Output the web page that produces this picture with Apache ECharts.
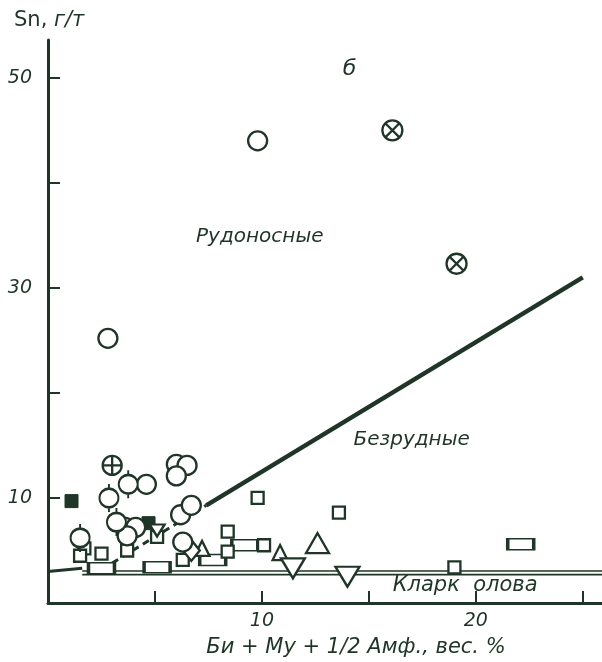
<!DOCTYPE html>
<html>
<head>
<meta charset="utf-8">
<script src="https://cdn.jsdelivr.net/npm/echarts@6/dist/echarts.min.js"></script>
<style>html,body{margin:0;padding:0;background:#fff}#c{width:602px;height:662px}</style>
</head>
<body>
<div id="c"></div>
<script>
// ---- data (x: Би+Му+1/2 Амф., вес.%; y: Sn, г/т) ----
const openCircles = [[9.8,44.0],[2.8,25.2],[4.6,11.3],[6.0,13.2],[6.5,13.1],[6.0,12.1],[3.6,7.2],[4.1,7.2],[3.7,6.4],[6.2,8.4],[6.7,9.3],[6.3,5.8]];
const stubCircles = [[1.5,6.2],[2.85,10.0],[3.75,11.3],[3.2,7.7]];
const crossCircles = [[16.1,45.0],[19.1,32.3]];
const plusCircles = [[3.0,13.1]];
const filledSquares = [[1.1,9.7],[4.7,7.6]];
const squares = [[1.7,5.2],[1.5,4.5],[2.5,4.7],[3.7,5.0],[5.1,6.3],[8.4,6.8],[8.4,4.9],[10.1,5.5],[9.8,10.0],[13.6,8.6],[19.0,3.4],[6.3,4.1]];
const wideRects = [[2.5,3.3],[5.1,3.4],[7.7,4.1],[9.2,5.5],[22.1,5.6]];
const smallTriangles = [[7.2,5.2],[10.85,4.8]];
const bigTriangles = [[12.6,5.7]];
const smallInvTriangles = [[5.1,6.9]];
const invTriangles = [[11.45,3.3],[14.0,2.5]];
const diamonds = [[6.7,5.0]];
const boundarySolid = [[7.4,9.3],[25.0,31.0]];
const boundaryDashed = [[3.0,3.8],[7.4,9.3]];
const boundaryLeft = [[0,3.0],[1.6,3.3]];
const clarkeUpper = [[1.6,3.05],[26,3.05]];
const clarkeLower = [[1.6,2.7],[26,2.7]];
const yTicks = [10,20,30,40,50];
const yLabels = [10,30,50];
const xTicks = [5,10,15,20,25];
const xLabels = [10,20];

const ink = '#1f3527';
const font = 'DejaVu Sans';
const C = 'M0,-10A10,10 0 1,1 0,10A10,10 0 1,1 0,-10Z';
const pCross = 'path://' + C + 'M-7.07,-7.07L7.07,7.07M7.07,-7.07L-7.07,7.07';
const pPlus = 'path://' + C + 'M0,-10L0,10M-10,0L10,0';
const pStub = 'path://' + C + 'M0,-10L0,-15M0,10L0,15';

const hollow = {color:'#fff', borderColor: ink, borderWidth: 2.3, opacity: 1};
function sc(data, symbol, size, style, extra) {
  return Object.assign({type:'scatter', data, symbol, symbolSize:size, itemStyle: style || hollow, z: 5, silent:true, emphasis:{disabled:true}}, extra||{});
}
function ln(data, width, type) {
  return {type:'line', data, symbol:'none', lineStyle:{color:ink, width, type: type||'solid', opacity:1}, z:3, silent:true};
}
function txt(x, y, text, size) {
  return {type:'scatter', symbolSize:0, z:6, silent:true, data:[[x,y]], itemStyle:{opacity:1},
    label:{show:true, position:'inside', formatter:text, color:ink, fontFamily:font, fontStyle:'italic', fontSize:size}};
}

const chart = echarts.init(document.getElementById('c'));
chart.setOption({
  backgroundColor:'#fff',
  animation:false,
  title:{
    text:'{a|Sn,}{b| г/т}', left:9, top:5,
    textStyle:{rich:{a:{fontFamily:font, fontSize:21, color:ink, fontWeight:'normal'}, b:{fontFamily:font, fontSize:21, fontStyle:'italic', fontWeight:'normal', color:ink}}}
  },
  grid:{left:48, right:0, top:40, bottom:59, containLabel:false, outerBoundsMode:'none'},
  xAxis:{
    type:'value', min:0, max:25.9,
    axisLine:{lineStyle:{color:ink, width:3}},
    axisTick:{inside:true, length:12, customValues:xTicks, lineStyle:{color:ink, width:2}},
    axisLabel:{customValues:xLabels, margin:9, color:ink, fontFamily:font, fontStyle:'italic', fontSize:19},
    splitLine:{show:false},
    name:'Би + Му + 1/2 Амф., вес. %', nameLocation:'middle', nameGap:34,
    nameTextStyle:{color:ink, fontFamily:font, fontStyle:'italic', fontSize:21, padding:[0,0,0,62]}
  },
  yAxis:{
    type:'value', min:0, max:53.6,
    axisLine:{lineStyle:{color:ink, width:3}},
    axisTick:{inside:true, length:12, customValues:yTicks, lineStyle:{color:ink, width:2}},
    axisLabel:{customValues:yLabels, margin:16, color:ink, fontFamily:font, fontStyle:'italic', fontSize:19},
    splitLine:{show:false}
  },
  series:[
    ln(clarkeUpper, 1.6), ln(clarkeLower, 1.6),
    ln(boundaryLeft, 3), ln(boundaryDashed, 3, [7,5]), ln(boundarySolid, 4.5),
    sc(wideRects, 'rect', [26,11]),
    sc(squares, 'rect', [12,12]),
    sc(filledSquares, 'rect', [13,13], {color: ink, borderColor: ink, borderWidth:1, opacity:1}),
    sc(smallTriangles, 'triangle', [15,15]),
    sc(bigTriangles, 'triangle', [23,20]),
    sc(smallInvTriangles, 'triangle', [15,12], null, {symbolRotate:180}),
    sc(invTriangles, 'triangle', [24,20], null, {symbolRotate:180}),
    sc(diamonds, 'diamond', [17,21]),
    sc(openCircles, 'circle', 19),
    sc(stubCircles, pStub, [19,28]),
    sc(plusCircles, pPlus, 19),
    sc(crossCircles, pCross, 20),
    txt(14.1, 50.8, 'б', 22),
    txt(9.9, 34.9, 'Рудоносные', 20),
    txt(17.0, 15.5, 'Безрудные', 20),
    txt(19.5, 1.7, 'Кларк  олова', 21)
  ]
});
</script>
</body>
</html>
